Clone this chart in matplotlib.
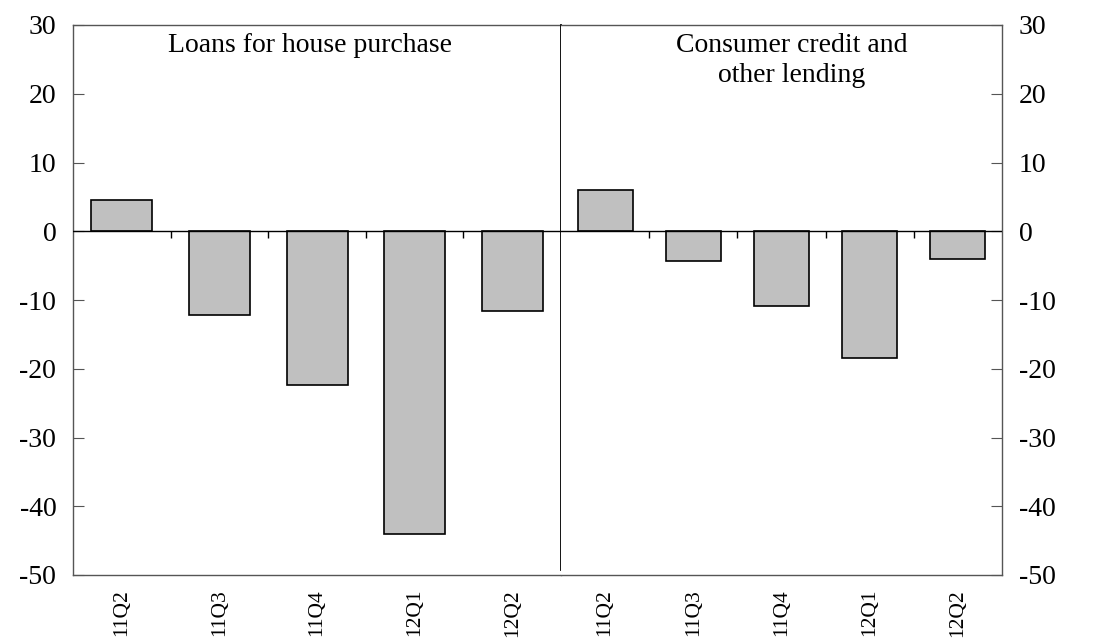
import numpy as np
import matplotlib
matplotlib.use('Agg')
import matplotlib.pyplot as plt

plt.rcParams['font.family'] = ['Liberation Serif', 'DejaVu Serif']
plt.rcParams['axes.unicode_minus'] = False

quarters = ['11Q2', '11Q3', '11Q4', '12Q1', '12Q2']
house = [4.6, -12.2, -22.3, -44.1, -11.6]
consumer = [6.0, -4.3, -10.8, -18.5, -4.1]
titles = ['Loans for house purchase', 'Consumer credit and\nother lending']
yticks = [-50, -40, -30, -20, -10, 0, 10, 20, 30]

fig = plt.figure(figsize=(11.16, 6.4), dpi=100)
ax1 = fig.add_axes([73/1116, 65/640, 488/1116, 550/640])
ax2 = fig.add_axes([561/1116, 65/640, 441/1116, 550/640])

frame = '#555555'
fs = 20

def draw_panel(ax, vals, title, tx):
    x = np.arange(len(vals))
    ax.bar(x, vals, width=0.625, color='#c0c0c0', edgecolor='black', linewidth=1.2, zorder=2)
    ax.axhline(0, color='black', lw=1, zorder=3)
    # small marks between categories on the zero line
    ax.vlines(x[:-1] + 0.5, -1, 0, color='black', lw=1, zorder=3)
    ax.set_xlim(-0.5, len(vals) - 0.5)
    ax.set_ylim(-50, 30)
    ax.set_yticks(yticks)
    ax.set_xticks(x)
    ax.set_xticklabels(quarters, rotation=90, fontsize=15.5)
    ax.tick_params(axis='x', length=0, pad=10)
    ax.text(tx, 0.985, title, transform=ax.transAxes, ha='center', va='top',
            fontsize=fs, linespacing=1.25)
    for s in ax.spines.values():
        s.set_color(frame)
        s.set_linewidth(1)

draw_panel(ax1, house, titles[0], 0.486)
draw_panel(ax2, consumer, titles[1], 0.524)

ax1.spines['right'].set_visible(False)
ax2.spines['left'].set_visible(False)
ax1.axvline(ax1.get_xlim()[1], ymin=0.01, ymax=1, color='black', lw=1.3, zorder=4, clip_on=False)

ax1.tick_params(axis='y', direction='in', length=8, color=frame, labelsize=fs, pad=12,
                left=True, right=False, labelleft=True, labelright=False)
ax2.tick_params(axis='y', direction='in', length=8, color=frame, labelsize=fs, pad=12,
                left=False, right=True, labelleft=False, labelright=True)

fig.savefig('out.png', dpi=100, facecolor='white')
